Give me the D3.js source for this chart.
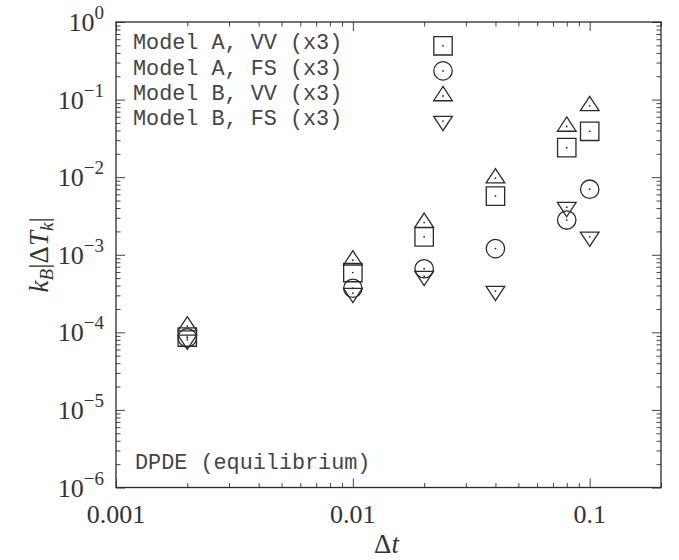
<!DOCTYPE html>
<html>
<head>
<meta charset="utf-8">
<script src="https://cdn.jsdelivr.net/npm/d3@7"></script>
<style>
  body { margin: 0; background: #fff; }
  svg text { fill: #333; }
</style>
</head>
<body>
<script>
const dt = [0.002, 0.01, 0.02, 0.04, 0.08, 0.1];
const modelAVV = [8.7e-5, 5.9e-4, 1.7e-3, 5.7e-3, 2.4e-2, 3.9e-2];
const modelAFS = [8.5e-5, 3.7e-4, 6.6e-4, 1.2e-3, 2.8e-3, 7.0e-3];
const modelBVV = [1.2e-4, 8.5e-4, 2.6e-3, 9.7e-3, 4.5e-2, 8.3e-2];
const modelBFS = [8.0e-5, 3.2e-4, 5.3e-4, 3.4e-4, 4.1e-3, 1.7e-3];

const seriesNames = ['Model A, VV (x3)', 'Model A, FS (x3)', 'Model B, VV (x3)', 'Model B, FS (x3)'];
const seriesShapes = ['square', 'circle', 'up', 'down'];
const seriesValues = [modelAVV, modelAFS, modelBVV, modelBFS];

const xMajor = [0.001, 0.01, 0.1];
const xLabels = ['0.001', '0.01', '0.1'];
const yMajor = [1e-6, 1e-5, 1e-4, 1e-3, 1e-2, 1e-1, 1];
const yExp = ['-6', '-5', '-4', '-3', '-2', '-1', '0'];

const width = 679;
const height = 560;
const margin = {left: 116, right: 18, top: 22, bottom: 72.5};
const ink = '#2b2b2b';
const serif = 'Liberation Serif, serif';

const xScale = d3.scaleLog()
  .domain([0.001, 0.2])
  .range([margin.left, width - margin.right]);

const yScale = d3.scaleLog()
  .domain([1e-6, 1])
  .range([height - margin.bottom, margin.top]);

// minor ticks 2..9 in every decade
const xMinor = [];
[0.001, 0.01, 0.1].forEach(d => {
  for (let k = 2; k <= 9; k++) if (d * k <= 0.2) xMinor.push(d * k);
});
const yMinor = [];
yMajor.slice(0, -1).forEach(d => {
  for (let k = 2; k <= 9; k++) yMinor.push(d * k);
});

const svg = d3.select('body')
  .append('svg')
  .attr('width', width)
  .attr('height', height);

const x0 = margin.left, x1 = width - margin.right;
const y0 = height - margin.bottom, y1 = margin.top;

function tickAxis(axis, values, size, transform) {
  const g = svg.append('g')
    .attr('transform', transform)
    .call(axis.tickValues(values).tickSize(size).tickFormat(''));
  g.select('.domain').remove();
  g.selectAll('line').attr('stroke', '#444').attr('stroke-width', 1);
  return g;
}

// ticks pointing inwards on all four sides
tickAxis(d3.axisBottom(xScale), xMajor, -9, `translate(0,${y0})`);
tickAxis(d3.axisBottom(xScale), xMinor, -4.5, `translate(0,${y0})`);
tickAxis(d3.axisTop(xScale), xMajor, -9, `translate(0,${y1})`);
tickAxis(d3.axisTop(xScale), xMinor, -4.5, `translate(0,${y1})`);
tickAxis(d3.axisLeft(yScale), yMajor, -9, `translate(${x0},0)`);
tickAxis(d3.axisLeft(yScale), yMinor, -4.5, `translate(${x0},0)`);
tickAxis(d3.axisRight(yScale), yMajor, -9, `translate(${x1},0)`);
tickAxis(d3.axisRight(yScale), yMinor, -4.5, `translate(${x1},0)`);

svg.append('rect')
  .attr('x', x0)
  .attr('y', y1)
  .attr('width', x1 - x0)
  .attr('height', y0 - y1)
  .attr('fill', 'none')
  .attr('stroke', ink)
  .attr('stroke-width', 1.3);

// tick labels
svg.append('g')
  .selectAll('text')
  .data(xMajor)
  .enter()
  .append('text')
  .attr('x', d => xScale(d))
  .attr('y', y0 + 35)
  .attr('text-anchor', 'middle')
  .style('font-family', serif)
  .style('font-size', '26px')
  .text((d, i) => xLabels[i]);

const yl = svg.append('g')
  .selectAll('text')
  .data(yMajor)
  .enter()
  .append('text')
  .attr('x', 104)
  .attr('y', d => yScale(d) + 9)
  .attr('text-anchor', 'end')
  .style('font-family', serif)
  .style('font-size', '26px');
yl.append('tspan').text('10');
yl.append('tspan')
  .attr('dy', -12)
  .style('font-size', '19px')
  .text((d, i) => yExp[i].replace('-', '\u2212'));

// axis titles
const xt = svg.append('text')
  .attr('x', (x0 + x1) / 2 - 2)
  .attr('y', 553)
  .attr('text-anchor', 'middle')
  .style('font-family', serif)
  .style('font-size', '27px');
xt.append('tspan').text('\u0394');
xt.append('tspan').style('font-style', 'italic').text('t');

const yt = svg.append('text')
  .attr('transform', `translate(48,${(y0 + y1) / 2}) rotate(-90)`)
  .attr('text-anchor', 'middle')
  .style('font-family', serif)
  .style('font-size', '27px');
yt.append('tspan').style('font-style', 'italic').text('k');
yt.append('tspan').attr('dy', 5).style('font-style', 'italic').style('font-size', '19px').text('B');
yt.append('tspan').attr('dy', -5).text('|\u0394');
yt.append('tspan').style('font-style', 'italic').text('T');
yt.append('tspan').attr('dy', 5).style('font-style', 'italic').style('font-size', '19px').text('k');
yt.append('tspan').attr('dy', -5).text('|');

// marker outlines, centred on the data point (triangles on their centroid)
function markerPath(shape) {
  const s = 9.2, w = 9.35, h = 14.3;
  if (shape === 'square') return `M${-s},${-s}h${2 * s}v${2 * s}h${-2 * s}Z`;
  if (shape === 'circle') return d3.symbol(d3.symbolCircle, Math.PI * s * s)();
  if (shape === 'up') return `M0,${-2 * h / 3}L${w},${h / 3}L${-w},${h / 3}Z`;
  return `M0,${2 * h / 3}L${w},${-h / 3}L${-w},${-h / 3}Z`;
}

function drawMarker(g, shape) {
  g.append('path')
    .attr('d', markerPath(shape))
    .attr('fill', 'none')
    .attr('stroke', ink)
    .attr('stroke-width', 1.3);
  g.append('circle')
    .attr('r', 0.9)
    .attr('fill', ink);
}

seriesValues.forEach((vals, si) => {
  svg.append('g')
    .selectAll('g')
    .data(dt.map((d, i) => [d, vals[i]]))
    .enter()
    .append('g')
    .attr('transform', d => `translate(${xScale(d[0])},${yScale(d[1])})`)
    .each(function() { drawMarker(d3.select(this), seriesShapes[si]); });
});

// legend, top left inside the frame
const legend = svg.append('g');
seriesNames.forEach((name, i) => {
  const ly = 45.8 + i * 25.1;
  legend.append('text')
    .attr('x', 133)
    .attr('y', ly + 3.6)
    .style('font-family', 'Liberation Mono, monospace')
    .style('font-size', '21.8px')
    .style('fill', '#444')
    .text(name);
  const m = legend.append('g').attr('transform', `translate(443,${ly})`);
  drawMarker(m, seriesShapes[i]);
});

svg.append('text')
  .attr('x', 135)
  .attr('y', 469.3)
  .style('font-family', 'Liberation Mono, monospace')
  .style('font-size', '21.8px')
  .style('fill', '#444')
  .text('DPDE (equilibrium)');
</script>
</body>
</html>
